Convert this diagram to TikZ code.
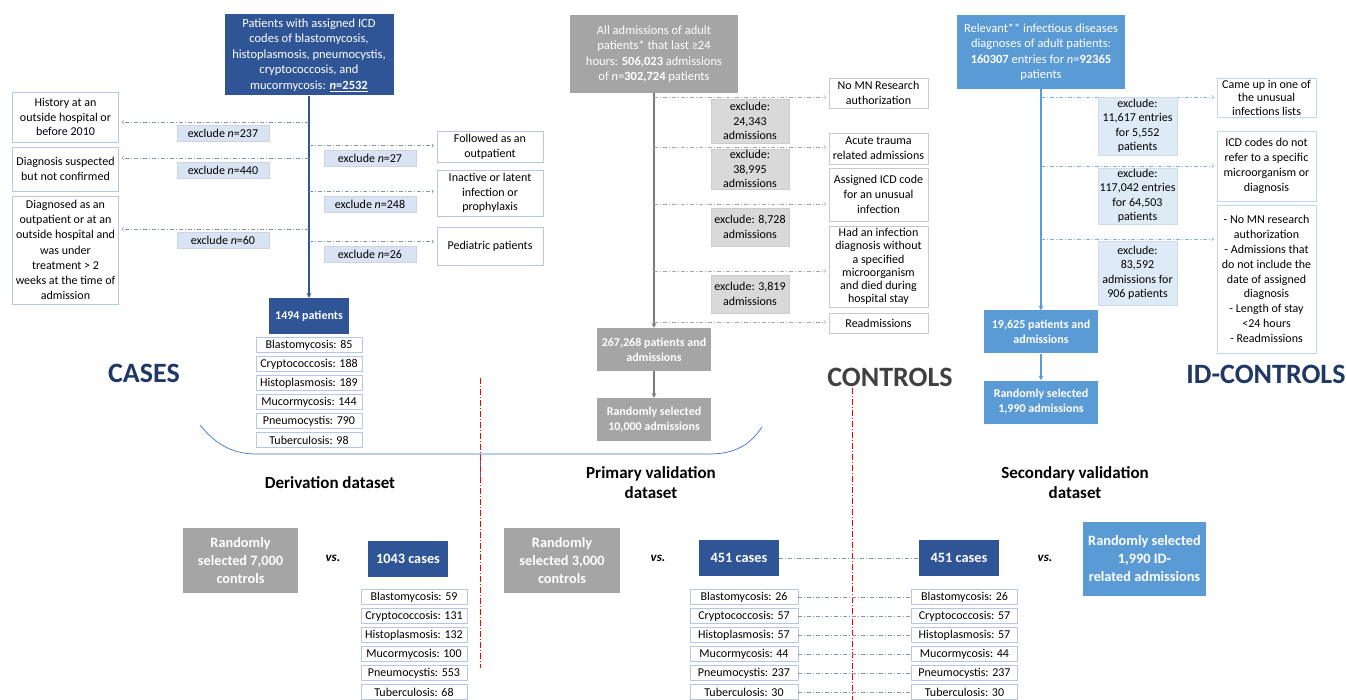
\documentclass[tikz,border=0pt]{standalone}
\usepackage{fontspec}
\setmainfont{Carlito}
\definecolor{caseblue}{HTML}{2F5597}
\definecolor{casetag}{HTML}{DAE3F3}
\definecolor{caseedge}{HTML}{B4C7E7}
\definecolor{casedash}{HTML}{8497B0}
\definecolor{ctrlgrey}{HTML}{A5A5A5}
\definecolor{ctrltag}{HTML}{D9D9D9}
\definecolor{ctrledge}{HTML}{C9C9C9}
\definecolor{ctrldash}{HTML}{A6A6A6}
\definecolor{idblue}{HTML}{5B9BD5}
\definecolor{idtag}{HTML}{DEEBF7}
\definecolor{idedge}{HTML}{BDD7EE}
\definecolor{iddash}{HTML}{7FB2E0}
\definecolor{titleblue}{HTML}{203864}
\definecolor{titlegrey}{HTML}{404040}
\definecolor{bracecol}{HTML}{4472C4}

\begin{document}
\begin{tikzpicture}[x=1pt, y=-1pt, node distance=19pt,
  every node/.style={align=center},
  bigbox/.style={inner sep=2pt, font=\fontsize{12.5}{15.5}\selectfont},
  casebox/.style={bigbox, fill=caseblue, text=white},
  ctrlbox/.style={bigbox, fill=ctrlgrey, text=white},
  idbox/.style={bigbox, fill=idblue, text=white},
  boldbox/.style={font=\fontsize{12}{15}\selectfont\bfseries, minimum width=114pt, minimum height=43pt},
  pickbox/.style={font=\fontsize{14.3}{18}\selectfont\bfseries},
  reason/.style={draw=#1, fill=white, inner sep=1pt, font=\fontsize{12}{14.8}\selectfont},
  exnote/.style={fill=#1, draw=#1!85!gray, inner sep=1pt, minimum height=16pt, font=\fontsize{12}{14.5}\selectfont},
  subtype/.style={draw=#1, fill=white, minimum width=106pt, minimum height=15pt, inner sep=0.5pt, font=\fontsize{12}{13}\selectfont},
  title/.style={font=\fontsize{28}{28}\selectfont\bfseries, text=#1},
  setname/.style={font=\fontsize{17}{20}\selectfont\bfseries},
  versus/.style={font=\fontsize{13}{14}\selectfont\bfseries\itshape},
  mainline/.style={draw=#1, line width=1.1pt, -stealth},
  exarrow/.style={draw=#1, line width=0.6pt, dash pattern=on 4pt off 2pt on 1pt off 2pt, ->, shorten >=3pt},
  link/.style={draw=casedash, line width=0.6pt, dash pattern=on 4pt off 2pt on 1pt off 2pt},
  divider/.style={red, line width=0.6pt, dash pattern=on 6pt off 2pt on 1pt off 2pt}]
  \useasboundingbox (0,0) rectangle (1346,700);

  % cases
  \node[casebox, minimum width=169pt, minimum height=81pt] (ca) at (309,55) {Patients with assigned ICD\\codes of blastomycosis,\\histoplasmosis, pneumocystis,\\cryptococcosis, and\\mucormycosis: \underline{\textbf{\textit{n}=2532}}};
  \node[casebox, font=\fontsize{12}{14}\selectfont\bfseries, minimum width=80pt, minimum height=36pt] (cp) at (309,316) {1494 patients};

  \node[subtype=caseedge] (cb1) at (309,345) {Blastomycosis: 85};
  \node[subtype=caseedge, below of=cb1] (cb2) {Cryptococcosis: 188};
  \node[subtype=caseedge, below of=cb2] (cb3) {Histoplasmosis: 189};
  \node[subtype=caseedge, below of=cb3] (cb4) {Mucormycosis: 144};
  \node[subtype=caseedge, below of=cb4] (cb5) {Pneumocystis: 790};
  \node[subtype=caseedge, below of=cb5] (cb6) {Tuberculosis: 98};

  \node[reason=caseedge, minimum width=106pt, minimum height=50pt] (h1) at (65.5,117) {History at an\\outside hospital or\\before 2010};
  \node[reason=caseedge, minimum width=106pt, minimum height=44pt] (h2) at (65.5,169) {Diagnosis suspected\\but not confirmed};
  \node[reason=caseedge, minimum width=106pt, minimum height=108pt, font=\fontsize{12}{15.2}\selectfont] (h3) at (65.5,250) {Diagnosed as an\\outpatient or at an\\outside hospital and\\was under\\treatment > 2\\weeks at the time of\\admission};
  \node[reason=caseedge, minimum width=106pt, minimum height=31pt] (r1) at (490,146.5) {Followed as an\\outpatient};
  \node[reason=caseedge, minimum width=106pt, minimum height=46pt] (r2) at (490,193) {Inactive or latent\\infection or\\prophylaxis};
  \node[reason=caseedge, minimum width=106pt, minimum height=38pt] (r3) at (490,246) {Pediatric patients};

  \coordinate (ce1) at (309,122);
  \coordinate (ce2) at (309,158);
  \coordinate (ce3) at (309,229);
  \coordinate (ce4) at (309,145.7);
  \coordinate (ce5) at (309,191.7);
  \coordinate (ce6) at (309,241.7);
  \draw[mainline=caseblue] (ca) -- (cp);
  \draw[exarrow=casedash] (ce1) -- (ce1 -| h1.east);
  \draw[exarrow=casedash] (ce2) -- (ce2 -| h2.east);
  \draw[exarrow=casedash] (ce3) -- (ce3 -| h3.east);
  \draw[exarrow=casedash] (ce4) -- (ce4 -| r1.west);
  \draw[exarrow=casedash] (ce5) -- (ce5 -| r2.west);
  \draw[exarrow=casedash] (ce6) -- (ce6 -| r3.west);

  \node[exnote=casetag, minimum width=92pt] (t1) at (223,133) {exclude \textit{n}=237};
  \node[exnote=casetag, minimum width=92pt] (t2) at (223,170) {exclude \textit{n}=440};
  \node[exnote=casetag, minimum width=92pt] (t3) at (223,240) {exclude \textit{n}=60};
  \node[exnote=casetag, minimum width=92pt] (t4) at (370,158) {exclude \textit{n}=27};
  \node[exnote=casetag, minimum width=92pt] (t5) at (370,204) {exclude \textit{n}=248};
  \node[exnote=casetag, minimum width=92pt] (t6) at (370,254) {exclude \textit{n}=26};

  % controls
  \node[ctrlbox, minimum width=168pt, minimum height=78pt] (co) at (654,54) {All admissions of adult\\patients* that last ≥24\\hours: \textbf{506,023} admissions\\of \textit{n}=\textbf{302,724} patients};
  \node[ctrlbox, boldbox] (ch) at (654,349.5) {267,268 patients and\\admissions};
  \node[ctrlbox, boldbox] (cr) at (654,419.5) {Randomly selected\\10,000 admissions};

  \node[reason=ctrledge, minimum width=99pt, minimum height=30pt] (k1) at (878.5,93) {No MN Research\\authorization};
  \node[reason=ctrledge, minimum width=99pt, minimum height=31pt] (k2) at (878.5,148.5) {Acute trauma\\related admissions};
  \node[reason=ctrledge, minimum width=99pt, minimum height=53pt] (k3) at (878.5,194.5) {Assigned ICD code\\for an unusual\\infection};
  \node[reason=ctrledge, minimum width=99pt, minimum height=81pt, font=\fontsize{12}{13.3}\selectfont] (k4) at (878.5,266.5) {Had an infection\\diagnosis without\\a specified\\microorganism\\and died during\\hospital stay};
  \node[reason=ctrledge, minimum width=99pt, minimum height=20pt] (k5) at (878.5,323) {Readmissions};

  \coordinate (ke1) at (654,97);
  \coordinate (ke2) at (654,147);
  \coordinate (ke3) at (654,204);
  \coordinate (ke4) at (654,271);
  \coordinate (ke5) at (654,322);
  \draw[mainline=ctrlgrey!75!black] (co) -- (ch);
  \draw[mainline=ctrlgrey!75!black] (ch) -- (cr);
  \draw[exarrow=ctrldash] (ke1) -- (ke1 -| k1.west);
  \draw[exarrow=ctrldash] (ke2) -- (ke2 -| k2.west);
  \draw[exarrow=ctrldash] (ke3) -- (ke3 -| k3.west);
  \draw[exarrow=ctrldash] (ke4) -- (ke4 -| k4.west);
  \draw[exarrow=ctrldash] (ke5) -- (ke5 -| k5.west);

  \node[exnote=ctrltag, minimum width=78pt, minimum height=44pt] (u1) at (750,121) {exclude:\\24,343\\admissions};
  \node[exnote=ctrltag, minimum width=78pt, minimum height=38pt] (u2) at (750,169) {exclude:\\38,995\\admissions};
  \node[exnote=ctrltag, minimum width=78pt, minimum height=38pt] (u3) at (750,227) {exclude: 8,728\\admissions};
  \node[exnote=ctrltag, minimum width=78pt, minimum height=38pt] (u4) at (750,294) {exclude: 3,819\\admissions};

  % id-controls
  \node[idbox, minimum width=168pt, minimum height=74pt] (io) at (1041,52) {Relevant** infectious diseases\\diagnoses of adult patients:\\\textbf{160307} entries for \textit{n}=\textbf{92365}\\patients};
  \node[idbox, boldbox] (ih) at (1041,332) {19,625 patients and\\admissions};
  \node[idbox, boldbox] (ir) at (1041,402) {Randomly selected\\1,990 admissions};

  \node[reason=idedge, minimum width=99pt, minimum height=39pt, font=\fontsize{12}{13.5}\selectfont] (j1) at (1266.5,97.5) {Came up in one of\\the unusual\\infections lists};
  \node[reason=idedge, minimum width=99pt, minimum height=70pt] (j2) at (1266.5,166) {ICD codes do not\\refer to a specific\\microorganism or\\diagnosis};
  \node[reason=idedge, minimum width=99pt, minimum height=148pt] (j3) at (1266.5,279) {- No MN research\\authorization\\- Admissions that\\do not include the\\date of assigned\\diagnosis\\- Length of stay\\<24 hours\\- Readmissions};

  \coordinate (ie1) at (1041,97);
  \coordinate (ie2) at (1041,166);
  \coordinate (ie3) at (1041,239);
  \draw[mainline=idblue] (io) -- (ih);
  \draw[mainline=idblue] (ih) -- (ir);
  \draw[exarrow=iddash] (ie1) -- (ie1 -| j1.west);
  \draw[exarrow=iddash] (ie2) -- (ie2 -| j2.west);
  \draw[exarrow=iddash] (ie3) -- (ie3 -| j3.west);

  \node[exnote=idtag, minimum width=79pt, minimum height=58pt] (v1) at (1137.5,126) {exclude:\\11,617 entries\\for 5,552\\patients};
  \node[exnote=idtag, minimum width=79pt, minimum height=54pt] (v2) at (1137.5,196) {exclude:\\117,042 entries\\for 64,503\\patients};
  \node[exnote=idtag, minimum width=79pt, minimum height=64pt] (v3) at (1137.5,273) {exclude:\\83,592\\admissions for\\906 patients};

  % titles and datasets
  \node[title=titleblue] (cases) at (144,373) {CASES};
  \node[title=titlegrey] (controls) at (890,377) {CONTROLS};
  \node[title=titleblue] (idcontrols) at (1266,374) {ID-CONTROLS};

  \draw[bracecol, line width=0.7pt] (200,425) .. controls (218,447) and (235,454) .. (257,454) -- (709,454) .. controls (735,454) and (750,445) .. (762,427);
  \draw[bracecol, line width=0.7pt] (480,454) -- (480,483);
  \draw[divider] (480,378) -- (480,668);
  \draw[divider] (852,388) -- (852,700);

  \node[setname] (deriv) at (330,483) {Derivation dataset};
  \node[setname] (primary) at (651,483) {Primary validation\\dataset};
  \node[setname] (secondary) at (1075,483) {Secondary validation\\dataset};

  % comparisons
  \node[ctrlbox, pickbox, minimum width=115pt, minimum height=65pt] (g1) at (240.5,560.5) {Randomly\\selected 7,000\\controls};
  \node[versus] (vs1) at (333,558) {vs.};
  \node[casebox, pickbox, minimum width=80pt, minimum height=36pt] (d1) at (408,559) {1043 cases};
  \node[subtype=caseedge] (db1) at (414,597) {Blastomycosis: 59};
  \node[subtype=caseedge, below of=db1] (db2) {Cryptococcosis: 131};
  \node[subtype=caseedge, below of=db2] (db3) {Histoplasmosis: 132};
  \node[subtype=caseedge, below of=db3] (db4) {Mucormycosis: 100};
  \node[subtype=caseedge, below of=db4] (db5) {Pneumocystis: 553};
  \node[subtype=caseedge, below of=db5] (db6) {Tuberculosis: 68};

  \node[ctrlbox, pickbox, minimum width=116pt, minimum height=65pt] (g2) at (562,560.5) {Randomly\\selected 3,000\\controls};
  \node[versus] (vs2) at (658,558) {vs.};
  \node[casebox, pickbox, minimum width=80pt, minimum height=36pt] (p1) at (739,558) {451 cases};
  \node[subtype=caseedge, minimum width=108pt] (pb1) at (744,597) {Blastomycosis: 26};
  \node[subtype=caseedge, minimum width=108pt, below of=pb1] (pb2) {Cryptococcosis: 57};
  \node[subtype=caseedge, minimum width=108pt, below of=pb2] (pb3) {Histoplasmosis: 57};
  \node[subtype=caseedge, minimum width=108pt, below of=pb3] (pb4) {Mucormycosis: 44};
  \node[subtype=caseedge, minimum width=108pt, below of=pb4] (pb5) {Pneumocystis: 237};
  \node[subtype=caseedge, minimum width=108pt, below of=pb5] (pb6) {Tuberculosis: 30};

  \node[casebox, pickbox, minimum width=80pt, minimum height=36pt] (s1) at (959,558) {451 cases};
  \node[subtype=caseedge] (sb1) at (964.5,597) {Blastomycosis: 26};
  \node[subtype=caseedge, below of=sb1] (sb2) {Cryptococcosis: 57};
  \node[subtype=caseedge, below of=sb2] (sb3) {Histoplasmosis: 57};
  \node[subtype=caseedge, below of=sb3] (sb4) {Mucormycosis: 44};
  \node[subtype=caseedge, below of=sb4] (sb5) {Pneumocystis: 237};
  \node[subtype=caseedge, below of=sb5] (sb6) {Tuberculosis: 30};
  \node[versus] (vs3) at (1045,558) {vs.};
  \node[idbox, pickbox, minimum width=123pt, minimum height=74pt] (i1) at (1144.5,559) {Randomly selected\\1,990 ID-\\related admissions};

  \draw[link] (p1) -- (s1);
  \draw[link] (pb1) -- (sb1);
  \draw[link] (pb2) -- (sb2);
  \draw[link] (pb3) -- (sb3);
  \draw[link] (pb4) -- (sb4);
  \draw[link] (pb5) -- (sb5);
  \draw[link] (pb6) -- (sb6);
\end{tikzpicture}
\end{document}
